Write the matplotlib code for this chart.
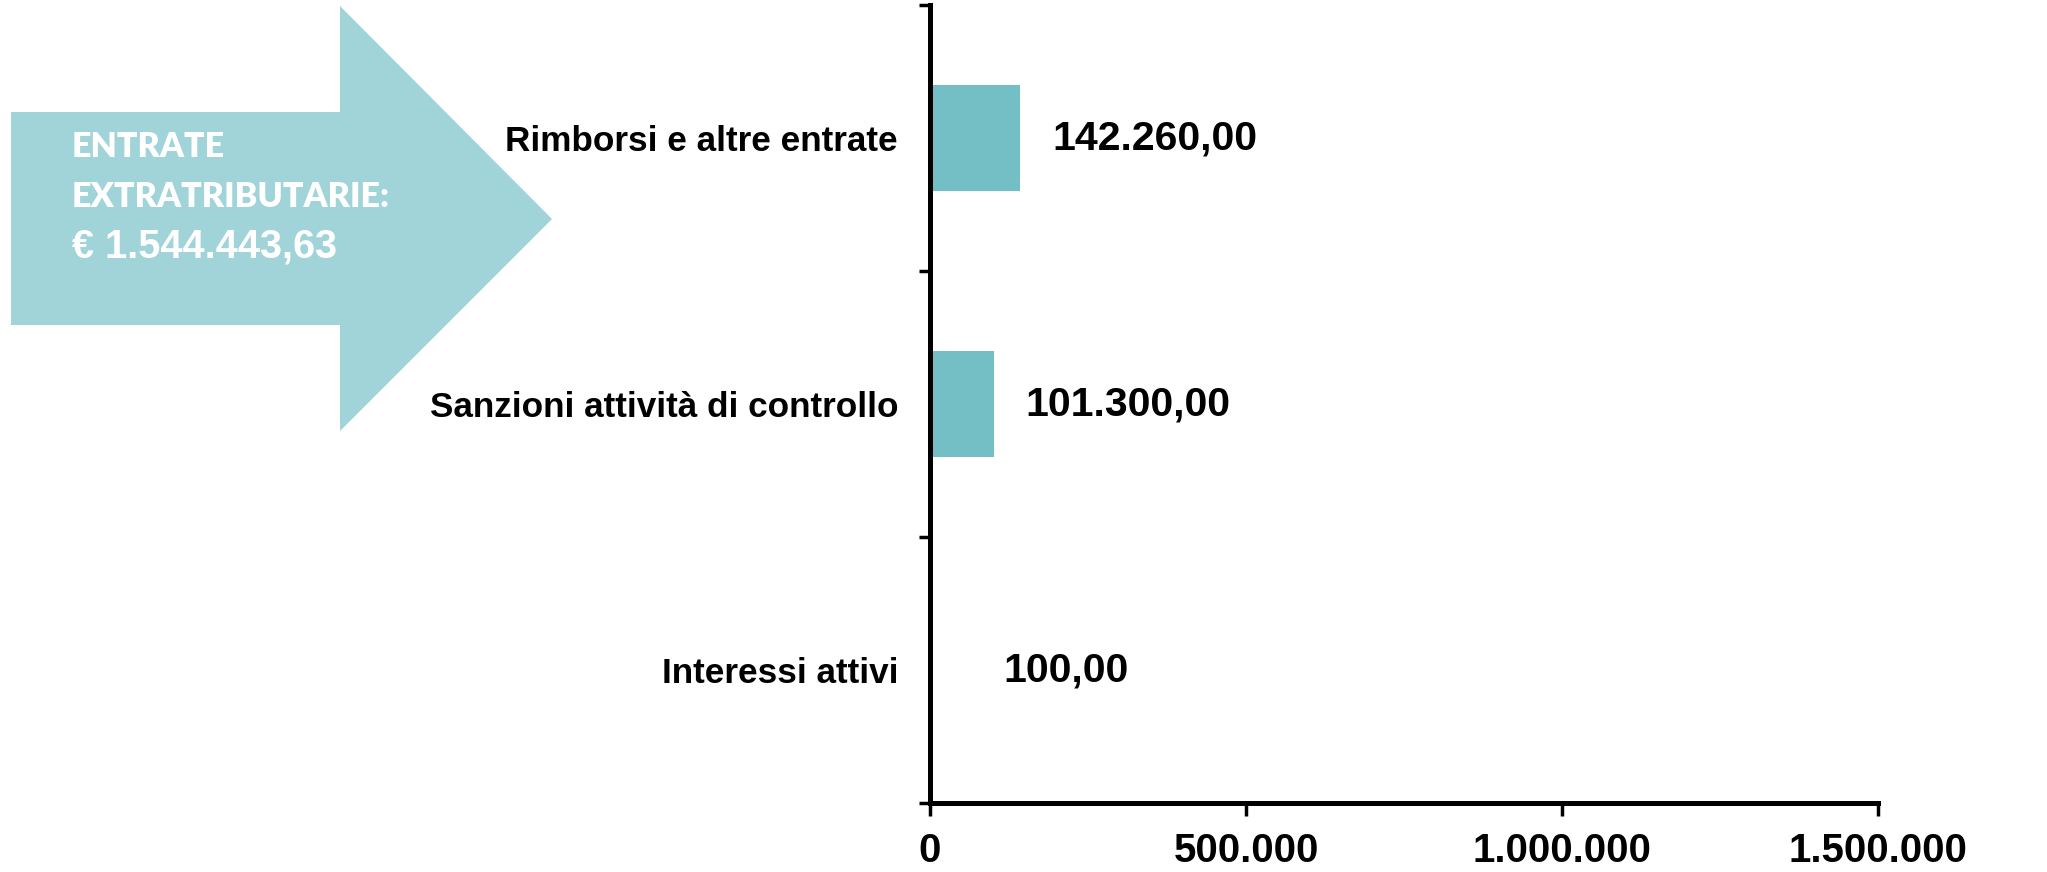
import matplotlib
matplotlib.use("Agg")
import matplotlib.pyplot as plt
from matplotlib.patches import Polygon
from matplotlib.ticker import FuncFormatter, FixedLocator
from matplotlib import font_manager

categories = ["Interessi attivi", "Sanzioni attività di controllo", "Rimborsi e altre entrate"]
values = [100, 101300, 142260]
xticks = [0, 500000, 1000000, 1500000]
label_offsets_px = [73, 31, 32]
arrow_lines = ["ENTRATE", "EXTRATRIBUTARIE:", "€ 1.544.443,63"]

bar_color = "#74bfc5"
arrow_color = "#a0d4d8"

W, H = 2047, 872
fig = plt.figure(figsize=(W / 100, H / 100), dpi=100)
ax = fig.add_axes([930 / W, 1 - 803 / H, (1878 - 930) / W, (803 - 5) / H])

def it_int(v):
    return f"{int(round(v)):,}".replace(",", ".")

def it_money(v):
    s = f"{v:,.2f}"
    return s.replace(",", "X").replace(".", ",").replace("X", ".")

ypos = list(range(len(categories)))
ax.barh(ypos, values, height=0.4, color=bar_color, zorder=2)
ax.set_xlim(0, 1500000)
ax.set_ylim(-0.5, len(categories) - 0.5)

for y, v, off in zip(ypos, values, label_offsets_px):
    ax.annotate(it_money(v), xy=(v, y), xytext=(off * 0.72, 0), textcoords="offset points",
                ha="left", va="center", fontsize=29.5, fontweight="bold",
                family="Liberation Sans", color="black")

ax.spines["top"].set_visible(False)
ax.spines["right"].set_visible(False)
ax.spines["left"].set_linewidth(3.6)
ax.spines["bottom"].set_linewidth(3.6)

ax.set_xticks(xticks)
ax.xaxis.set_major_formatter(FuncFormatter(lambda v, p: it_int(v)))
ax.tick_params(axis="x", length=9, width=2.5, pad=12, labelsize=29)
for t in ax.get_xticklabels():
    t.set_fontweight("bold")
    t.set_family("Liberation Sans")

ax.yaxis.set_major_locator(FixedLocator([-0.5, 0.5, 1.5, 2.5]))
ax.yaxis.set_major_formatter(FuncFormatter(lambda v, p: ""))
ax.yaxis.set_minor_locator(FixedLocator(ypos))
ax.set_yticklabels(categories, minor=True)
ax.tick_params(axis="y", which="major", length=8, width=2.5)
ax.tick_params(axis="y", which="minor", length=0, pad=23, labelsize=25.3)
for t in ax.get_yticklabels(minor=True):
    t.set_fontweight("bold")
    t.set_family("Liberation Sans")

# arrow shape in figure pixel space
pts_px = [(11, 112), (340, 112), (340, 6), (552, 219), (340, 431), (340, 325), (11, 325)]
pts = [(x / W, 1 - y / H) for x, y in pts_px]
fig.patches.append(Polygon(pts, closed=True, transform=fig.transFigure,
                           facecolor=arrow_color, edgecolor="none", zorder=0))

avail = {f.name for f in font_manager.fontManager.ttflist}
narrow = "Liberation Sans Narrow" if "Liberation Sans Narrow" in avail else "Liberation Sans"
baselines = [157, 207, 257]
fonts = ["Lato", "Lato", narrow]
sizes = [24.5, 24.5, 28.5]
weights = ["heavy", "heavy", "bold"]
for line, b, f, s, w in zip(arrow_lines, baselines, fonts, sizes, weights):
    fig.text(72 / W, 1 - b / H, line, color="white", fontweight=w, family=f,
             fontsize=s, ha="left", va="baseline")

fig.savefig("out.png", dpi=100)
